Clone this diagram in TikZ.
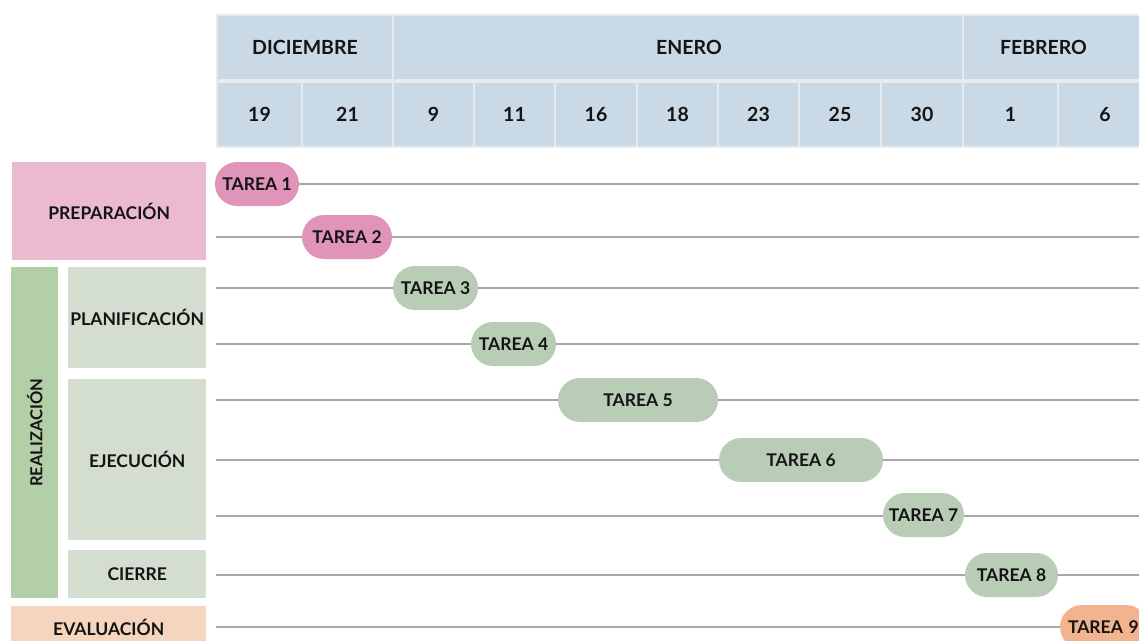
\documentclass[tikz,border=0pt]{standalone}
\usepackage{fontspec}
\setmainfont{Lato}
\usetikzlibrary{positioning,shapes.misc}
\definecolor{headblue}{RGB}{201,217,230}
\definecolor{sepgray}{RGB}{232,234,236}
\definecolor{prepink}{RGB}{235,186,208}
\definecolor{pillpink}{RGB}{225,148,185}
\definecolor{realgreen}{RGB}{179,207,167}
\definecolor{subgreen}{RGB}{211,221,208}
\definecolor{pillgreen}{RGB}{184,204,182}
\definecolor{evalpeach}{RGB}{245,213,190}
\definecolor{pillpeach}{RGB}{242,180,142}
\definecolor{gridgray}{RGB}{168,168,168}
\definecolor{inkdark}{RGB}{20,20,20}

\begin{document}
\begin{tikzpicture}[x=1pt, y=-1pt,
    headcell/.style={rectangle, fill=headblue, draw=sepgray, line width=2pt, anchor=north west,
        minimum height=65pt, inner sep=0pt, text=inkdark, font=\fontsize{19.5}{22}\selectfont\bfseries},
    phase/.style={rectangle, anchor=north west, inner sep=0pt, text=inkdark,
        font=\fontsize{17.5}{20}\selectfont\bfseries},
    task/.style={rounded rectangle, minimum height=44pt, inner sep=0pt, text=inkdark,
        font=\fontsize{17.5}{20}\selectfont\bfseries},
    gridline/.style={draw=gridgray, line width=1.3pt}
]
\useasboundingbox (0,0) rectangle (1139,640);
\clip (0,0) rectangle (1139,640);

% MONTHS
\node[headcell, minimum width=176pt] (dic) at (216,14) {DICIEMBRE};
\node[headcell, minimum width=570pt] (ene) at (392,14) {\hspace*{22pt}ENERO};
\node[headcell, minimum width=189pt] (feb) at (962,14) {\hspace*{-28pt}FEBRERO};

% DAYS
\foreach \l/\r/\d [count=\i, evaluate=\r as \w using \r-\l] in
    {216/301/19, 301/392/21, 392/473/9, 473/554/11, 554/636/16, 636/717/18,
     717/798/23, 798/880/25, 880/962/30, 962/1057/1, 1057/1151/6}
    \node[headcell, minimum width=\w pt] (d\i) at (\l,81) {\d};

% PHASES
\node[phase, fill=prepink, minimum width=194pt, minimum height=98pt] (prep) at (12,162) {PREPARACIÓN};
\node[phase, fill=realgreen, minimum width=47pt, minimum height=331pt] (real) at (11,267) {};
\node[rotate=90, text=inkdark, font=\fontsize{16.5}{18}\selectfont\bfseries] (reallbl) at (real.center) {REALIZACIÓN};
\node[phase, fill=subgreen, minimum width=138pt, minimum height=101pt] (plan) at (68,267) {PLANIFICACIÓN};
\node[phase, fill=subgreen, minimum width=138pt, minimum height=161pt] (ejec) at (68,379) {EJECUCIÓN};
\node[phase, fill=subgreen, minimum width=138pt, minimum height=48pt] (cier) at (68,550) {CIERRE};
\node[phase, fill=evalpeach, minimum width=195pt, minimum height=42pt] (eval) at (11,606) {EVALUACIÓN};

% TIMELINE ROWS
\foreach \y [count=\i] in {184,237,288,344,400,460,516,575,627} {
    \coordinate (g\i) at (216,\y);
    \coordinate (h\i) at (1139,\y);
    \draw[gridline] (g\i) -- (h\i);
}

% TASKS
\node[task, fill=pillpink, minimum width=84pt] (t1) at (257,184) {TAREA 1};
\node[task, fill=pillpink, minimum width=90pt] (t2) at (347,237) {TAREA 2};
\node[task, fill=pillgreen, minimum width=85pt] (t3) at (435.5,288) {TAREA 3};
\node[task, fill=pillgreen, minimum width=85pt] (t4) at (513.5,344) {TAREA 4};
\node[task, fill=pillgreen, minimum width=160pt] (t5) at (638,400) {TAREA 5};
\node[task, fill=pillgreen, minimum width=164pt] (t6) at (801,460) {TAREA 6};
\node[task, fill=pillgreen, minimum width=81pt] (t7) at (923.5,515) {TAREA 7};
\node[task, fill=pillgreen, minimum width=93pt] (t8) at (1011.5,575) {TAREA 8};
\node[task, fill=pillpeach, minimum width=88pt, text width=72pt, align=left] (t9) at (1104,627) {TAREA 9};

\end{tikzpicture}
\end{document}
